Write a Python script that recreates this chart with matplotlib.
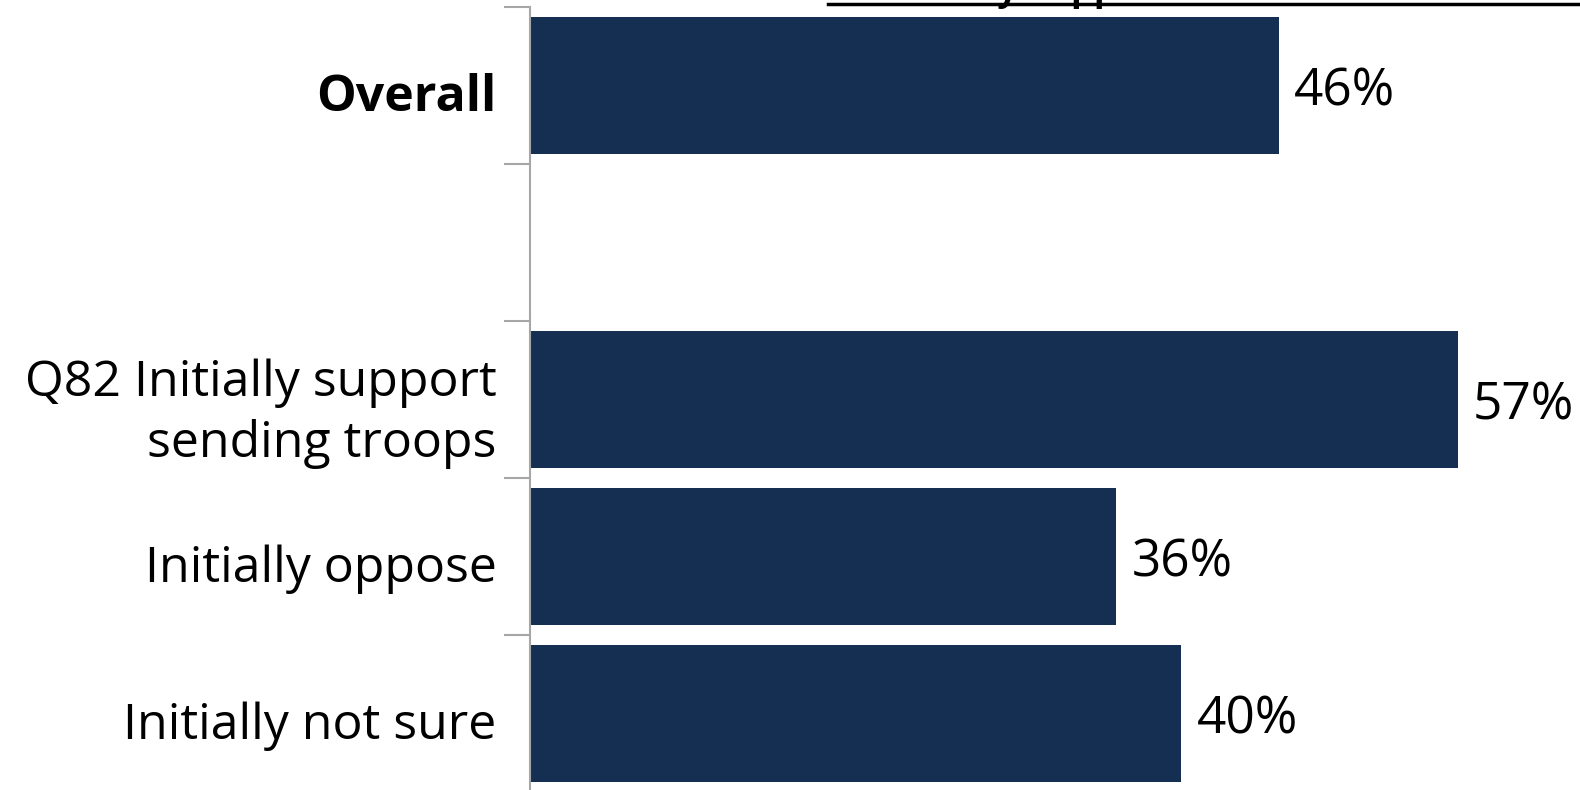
import matplotlib
matplotlib.use("Agg")
import matplotlib.pyplot as plt
from matplotlib.lines import Line2D
from matplotlib.transforms import ScaledTranslation

categories = ["Overall", "", "Q82 Initially support\nsending troops", "Initially oppose", "Initially not sure"]
values = [46, None, 57, 36, 40]
value_labels = ["46%", "", "57%", "36%", "40%"]
title_text = "Currently Support"

plt.rcParams['font.family'] = ['Open Sans', 'DejaVu Sans']

fig = plt.figure(figsize=(15.8, 7.9), dpi=100)
ax = fig.add_axes([530/1580, -2/790, 1 - 530/1580, 785/790])

bar_color = "#152f53"
ys = list(range(len(categories)))
for y, v, lab in zip(ys, values, value_labels):
    if v is None:
        continue
    ax.barh(y, v, height=0.87, color=bar_color)
    ax.annotate(lab, (v, y), xytext=(11, -5), textcoords="offset points",
                va="center", ha="left", fontsize=37, color="black")

ax.set_xlim(0, 64.5)
ax.set_ylim(len(categories) - 0.5, -0.5)

# boundary ticks
ax.set_yticks([i - 0.5 for i in range(len(categories) + 1)])
ax.set_yticklabels([])
ax.tick_params(axis="y", which="major", length=19, width=1.5, color="#a6a6a6")
ax.set_yticks(ys, minor=True)
ax.set_yticklabels(categories, minor=True, fontsize=36, linespacing=1.3)
ax.tick_params(axis="y", which="minor", length=0, pad=24)
for t in ax.get_yticklabels(minor=True):
    dy = -2 if "\n" in t.get_text() else -5
    t.set_transform(t.get_transform() + ScaledTranslation(0, dy/72, fig.dpi_scale_trans))
    if t.get_text() == "Overall":
        t.set_fontweight("bold")

ax.set_xticks([])
for s in ["top", "right", "bottom"]:
    ax.spines[s].set_visible(False)
ax.spines["left"].set_color("#a6a6a6")
ax.spines["left"].set_linewidth(1.5)

# clipped title at the very top
fig.text(846/1580, 1.0, title_text, ha="left", va="baseline",
         fontsize=26, fontweight="bold", color="black")
fig.add_artist(Line2D([828/1580, 1.0], [1 - 3.5/790, 1 - 3.5/790],
                      transform=fig.transFigure, color="black", linewidth=2.5))

fig.savefig("out.png", dpi=100)
